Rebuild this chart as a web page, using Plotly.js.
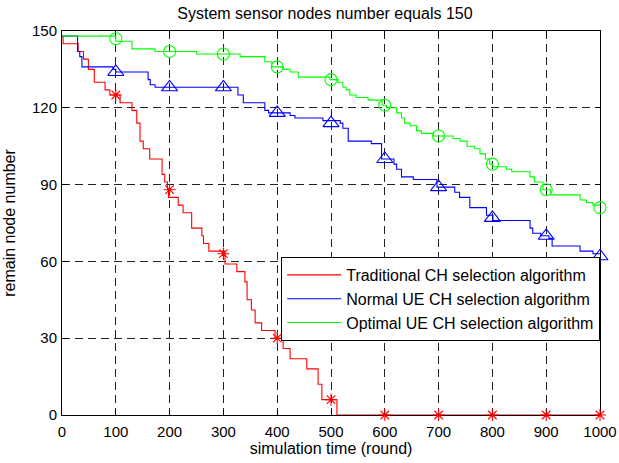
<!DOCTYPE html>
<html>
<head>
<meta charset="utf-8">
<script src="https://cdn.plot.ly/plotly-3.0.1.min.js"></script>
<style>html,body{margin:0;padding:0;background:#fff;}#chart{width:619px;height:463px;}</style>
</head>
<body>
<div id="chart"></div>
<script>
// Step curves (round, remaining nodes)
const redX = [0,2,30,40,49,60,80,89,108,130,139,145,151,163,186,191,196,198,216,225,241,260,263,273,303,325,340,344,352,359,371,396,411,424,455,476,483,511,1000];
const redY = [148,145,142,139,135,130,127,125,122,119,114,107,104,100,94,91,88,85,82,79,73,70,67,64,59,56,52,45,41,36,33,30,26,22,18,12,6,0,0];

const blueX = [0,29,33,37,95,100,160,164,173,327,337,377,384,399,424,433,485,517,522,532,575,594,617,622,631,653,697,730,739,758,789,801,870,875,890,905,911,963,987,1000];
const blueY = [148,142,140,136,135,134,131,129,128,125,122,119,118,118,117,116,115,114,112,107,106,100,98,96,93,92,89,87,85,81,78,76,73,71,70,69,66,64,63,63];

const greenX = [0,100,130,173,250,331,377,390,411,424,439,498,513,522,528,535,547,569,595,603,622,631,637,647,659,668,690,727,740,753,767,777,787,795,801,826,836,870,878,894,908,963,975,987,1000];
const greenY = [148,146,143,142,141,140,138,136,135,134,132,131,130,128,127,125,124,123,121,120,118,116,114,113,111,110,109,108,107,105,104,102,100,98,97,96,95,93,91,88,86,84,83,82,82];

// Marker samples every 100 rounds
const markRounds = [100,200,300,400,500,600,700,800,900,1000];
const redMarks   = [125,88,63,30,6,0,0,0,0,0];
const blueMarks  = [134,128,128,118,114,100,89,77,70,62];
const greenMarks = [147,142,141,136,131,121,109,98,88,81];

const seriesNames = ['Traditional CH selection algorithm','Normal UE CH selection algorithm','Optimal UE CH selection algorithm'];
const xTicks = [0,100,200,300,400,500,600,700,800,900,1000];
const yTicks = [0,30,60,90,120,150];

const FONT = 'Liberation Sans, Arial, Helvetica, sans-serif';

const lineTrace = (x, y, color, name) => ({
  x: x, y: y, type: 'scatter', mode: 'lines', name: name,
  line: {color: color, width: 1.1, shape: 'hv'}
});
const markTrace = (y, color, symbol, size) => ({
  x: markRounds, y: y, type: 'scatter', mode: 'markers', showlegend: false,
  cliponaxis: false, hoverinfo: 'skip',
  marker: {symbol: symbol, size: size, color: color, line: {color: color, width: 1.1}}
});

const data = [
  lineTrace(redX, redY, '#ff0000', seriesNames[0]),
  lineTrace(blueX, blueY, '#0000ff', seriesNames[1]),
  lineTrace(greenX, greenY, '#00ff00', seriesNames[2]),
  markTrace(redMarks, '#ff0000', 'asterisk-open', 10),
  markTrace(blueMarks, '#0000ff', 'triangle-up-open', 14),
  markTrace(greenMarks, '#00ff00', 'circle-open', 12)
];

const axisCommon = {
  showline: true, linecolor: '#000', linewidth: 1, mirror: 'ticks',
  ticks: 'inside', ticklen: 5, tickcolor: '#000', tickwidth: 1,
  showgrid: true, gridcolor: '#222', gridwidth: 1, griddash: '8px,5px',
  zeroline: false, layer: 'below traces',
  tickfont: {family: FONT, size: 15, color: '#000'}
};

const layout = {
  width: 619, height: 463,
  margin: {l: 62, r: 19, t: 31, b: 48},
  paper_bgcolor: '#fff', plot_bgcolor: '#fff',
  font: {family: FONT, size: 15, color: '#000'},
  title: {text: 'System sensor nodes number equals 150', x: 0.525, xanchor: 'center', y: 0.972, yanchor: 'middle',
          font: {family: FONT, size: 16, color: '#000'}},
  xaxis: Object.assign({}, axisCommon, {
    range: [0, 1000], tickvals: xTicks, ticktext: xTicks.map(String),
    ticklabelstandoff: 3,
    title: {text: 'simulation time (round)', standoff: 3, font: {family: FONT, size: 16, color: '#000'}}
  }),
  yaxis: Object.assign({}, axisCommon, {
    range: [0, 150], tickvals: yTicks, ticktext: yTicks.map(String),
    ticklabelstandoff: 1,
    title: {text: 'remain node number', standoff: 12, font: {family: FONT, size: 16, color: '#000'}}
  }),
  showlegend: true,
  legend: {
    x: 1, xanchor: 'right', y: 0.412, yanchor: 'top',
    bgcolor: '#fff', bordercolor: '#000', borderwidth: 1.2,
    font: {family: FONT, size: 16, color: '#000'},
    itemwidth: 54
  }
};

Plotly.newPlot('chart', data, layout, {displayModeBar: false, staticPlot: true});
</script>
</body>
</html>
